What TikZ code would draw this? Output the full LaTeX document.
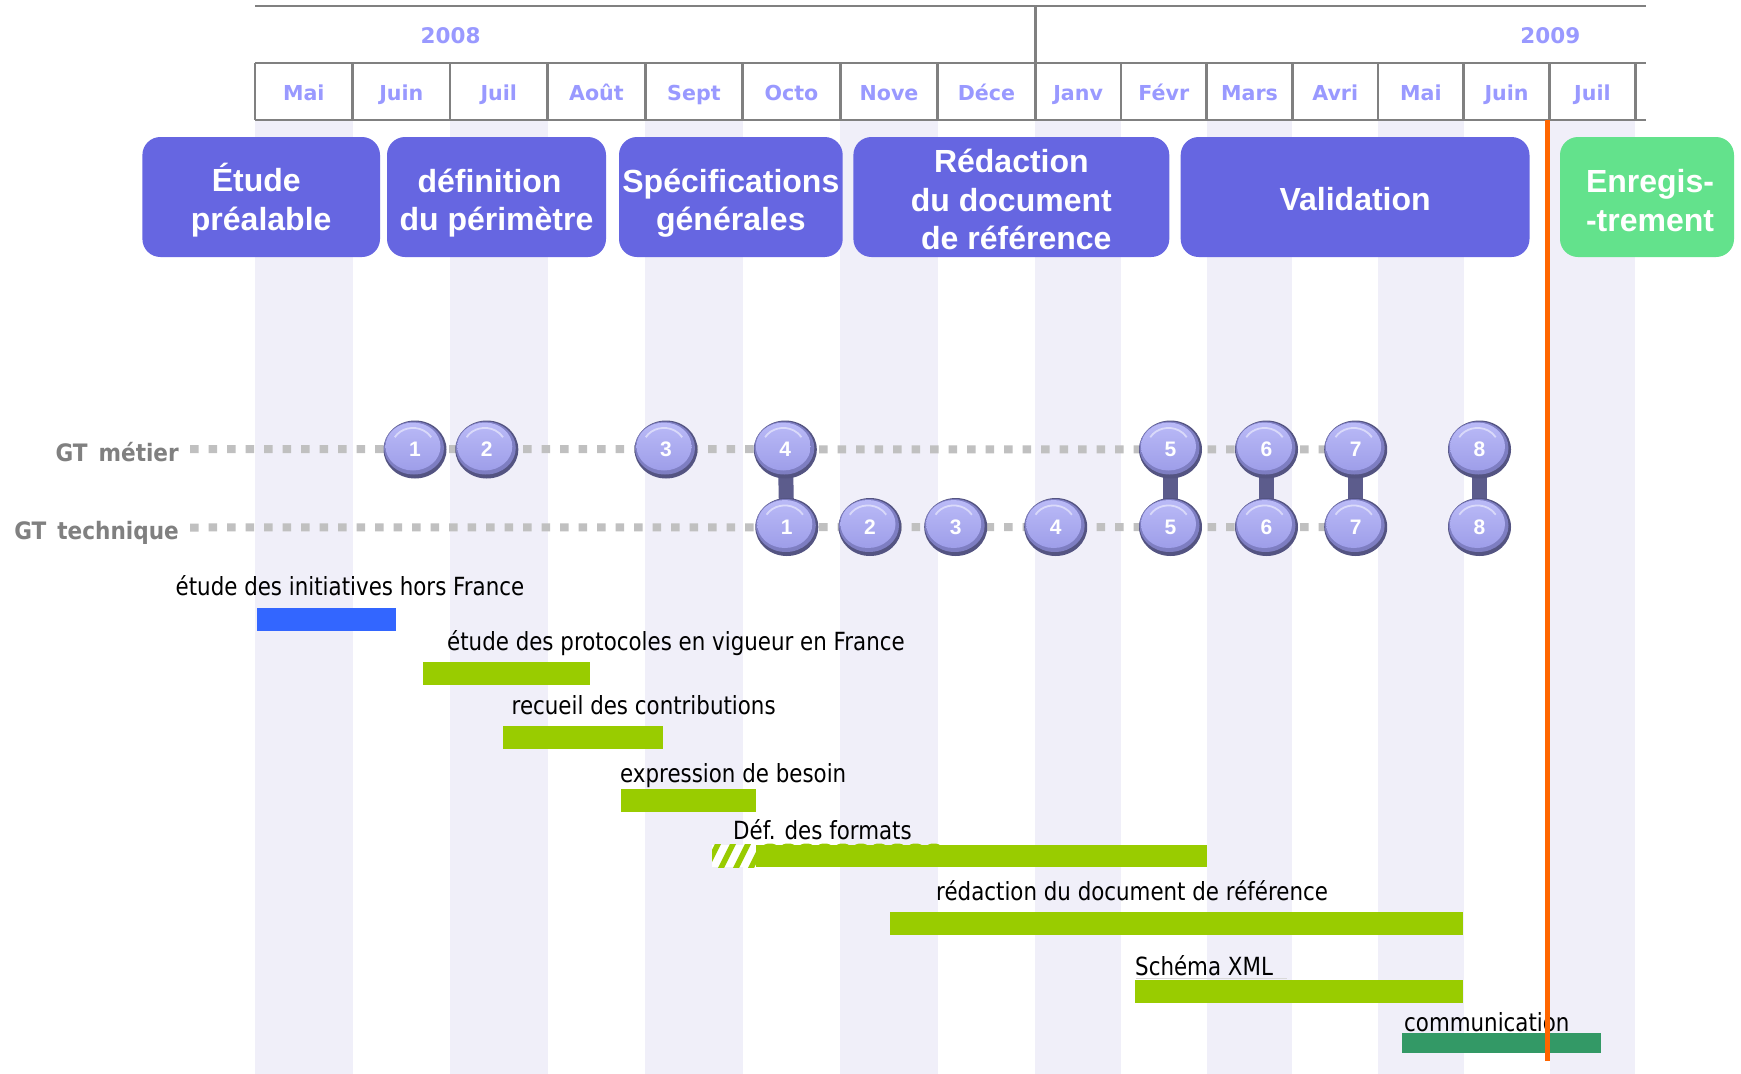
\documentclass[tikz,border=0pt]{standalone}
\usepackage{fontspec}
\usetikzlibrary{shapes.geometric}
\setmainfont{DejaVu Sans}
\newfontfamily\phasefont{Liberation Sans}
\newfontfamily\hdrfont{DejaVu Sans}
\newfontfamily\gtfont[FakeStretch=0.9]{DejaVu Sans}
\newfontfamily\taskfont[FakeStretch=0.855]{DejaVu Sans}
\newfontfamily\numfont{Liberation Sans}
\definecolor{stripe}{RGB}{240,239,249}
\definecolor{gridgray}{RGB}{128,128,128}
\definecolor{hdr}{RGB}{153,153,255}
\definecolor{phaseblue}{RGB}{102,102,225}
\definecolor{phasegreen}{RGB}{99,226,140}
\definecolor{gtgray}{RGB}{128,128,128}
\definecolor{dotgray}{RGB}{192,192,192}
\definecolor{balldark}{RGB}{84,84,130}
\definecolor{ballmid}{RGB}{126,126,194}
\definecolor{balltop}{RGB}{186,186,247}
\definecolor{ballbot}{RGB}{158,158,233}
\definecolor{linkcol}{RGB}{92,92,140}
\definecolor{taskblue}{RGB}{51,102,255}
\definecolor{taskgreen}{RGB}{153,204,0}
\definecolor{taskcomm}{RGB}{51,153,102}
\definecolor{nowline}{RGB}{255,102,0}
\pgfdeclarelayer{bg}
\pgfdeclarelayer{mid}
\pgfsetlayers{bg,mid,main}
\tikzset{
  gridline/.style={draw=gridgray, line width=2.8pt},
  yearlab/.style={anchor=base, text=hdr, font={\hdrfont\bfseries\fontsize{21.5}{24}\selectfont}, inner sep=0pt},
  monthlab/.style={anchor=base, text=hdr, font={\hdrfont\bfseries\fontsize{20.6}{24}\selectfont}, inner sep=0pt},
  phase/.style={rounded corners=18pt, fill=phaseblue, inner sep=0pt, minimum height=120pt},
  phasetext/.style={text=white, align=center, inner sep=0pt,
    font={\phasefont\bfseries\fontsize{32}{38.5}\selectfont}},
  gtlab/.style={anchor=base east, text=gtgray, inner sep=0pt, font={\gtfont\bfseries\fontsize{24}{28}\selectfont}},
  track/.style={draw=dotgray, line width=8pt, dash pattern=on 8.5pt off 10pt},
  linkbar/.style={draw=linkcol, line width=15pt},
  ball/.style={ellipse, minimum width=63pt, minimum height=58pt, inner sep=0pt, fill=balldark,
    text=white, font={\numfont\bfseries\fontsize{21}{23}\selectfont},
    path picture={
      \fill[ballmid] ([xshift=-1pt,yshift=1.5pt]path picture bounding box.center) ellipse[x radius=30pt, y radius=26.5pt];
      \shade[top color=balltop, bottom color=ballbot] ([xshift=-2pt,yshift=3pt]path picture bounding box.center) ellipse[x radius=27.5pt, y radius=24pt];
      \draw[white, opacity=0.5, line width=1.8pt] ([xshift=-20.2pt,yshift=12.3pt]path picture bounding box.center) arc[start angle=150, end angle=30, x radius=21pt, y radius=18.5pt];
    }},
  tasklab/.style={anchor=base west, inner sep=0pt, text=black, font={\taskfont\fontsize{25}{28}\selectfont}},
}
\begin{document}
\begin{tikzpicture}[x=1pt,y=-1pt]
\useasboundingbox (0,0) rectangle (1741,1074);
% background month stripes
\begin{pgfonlayer}{bg}
\fill[white] (0,0) rectangle (1741,1074);
\foreach \a/\b in {255/352.5, 450/547.6, 645.1/742.7, 840.3/937.7, 1035.2/1120.9, 1206.6/1292.3, 1378/1463.8, 1549.5/1635.2}
  \fill[stripe] (\a,120) rectangle (\b,1074);
\end{pgfonlayer}
% header grid
\draw[gridline] (255,6) -- (1645.5,6);
\draw[gridline] (255,63) -- (1645.5,63);
\draw[gridline] (255,120) -- (1645.5,120);
\draw[gridline] (1035.2,6) -- (1035.2,63);
\foreach \x in {255,352.5,450,547.6,645.1,742.7,840.3,937.7,1035.2,1120.9,1206.6,1292.3,1378,1463.8,1549.5,1635.2}
  \draw[gridline] (\x,63) -- (\x,120);
\node[yearlab] (y2008) at (450.6,43.3) {2008};
\node[yearlab] (y2009) at (1550.3,43.3) {2009};
\foreach \x/\t [count=\i] in {303.8/Mai, 401.3/Juin, 498.8/Juil, 596.4/Août, 693.9/Sept, 791.4/Octo, 889/Nove, 986.4/Déce, 1078.1/Janv, 1163.8/Févr, 1249.5/Mars, 1335.2/Avri, 1420.9/Mai, 1506.6/Juin, 1592.4/Juil}
  \node[monthlab] (mo\i) at (\x,100) {\t};
% phases
\node[phase, minimum width=237.6pt] (p1) at (261.2,197) {};
\node[phase, minimum width=219pt] (p2) at (496.5,197) {};
\node[phase, minimum width=223.7pt] (p3) at (730.85,197) {};
\node[phase, minimum width=315.9pt] (p4) at (1011.35,197) {};
\node[phase, minimum width=348.8pt] (p5) at (1355.1,197) {};
\node[phase, fill=phasegreen, minimum width=174pt] (p6) at (1647,197) {};
\node[phasetext] (p1t) at ([yshift=-3pt]p1.center) {Étude\hspace*{10pt}\\préalable};
\node[phasetext] (p2t) at ([yshift=-6pt]p2.center) {définition\hspace*{14pt}\\du périmètre};
\node[phasetext] (p3t) at ([yshift=-6pt]p3.center) {Spécifications\\générales};
\node[phasetext] (p4t) at ([yshift=-2.5pt]p4.center) {Rédaction\\du document\\\hspace*{10pt}de référence};
\node[phasetext] (p5t) at ([yshift=-2.5pt]p5.center) {Validation};
\node[phasetext] (p6t) at ([xshift=3pt,yshift=-3.5pt]p6.center) {Enregis-\\-trement};
% GT labels
\node[gtlab] (gtm) at (179,461) {GT\hspace{11pt}métier};
\node[gtlab] (gtt) at (179,539.8) {GT\hspace{11pt}technique};
\coordinate (ms) at (190,449);
\coordinate (ts) at (190,527.5);
% balls, GT metier
\foreach \x [count=\i] in {415,486.8,666,785.3,1170.5,1266.5,1355.7,1479.5}
  \node[ball] (m\i) at (\x,449.5) {\raisebox{-4.5pt}{\i}};
% balls, GT technique
\foreach \x [count=\i] in {786.8,870,955.7,1055.7,1170.5,1266.5,1355.7,1479.5}
  \node[ball] (t\i) at (\x,527) {\raisebox{-4.5pt}{\i}};
\begin{pgfonlayer}{mid}
\draw[track] (ms) -- (m7.center);
\draw[track] (ts) -- (t7.center);
\draw[linkbar] (m4.center) -- (t1.center);
\draw[linkbar] (m5.center) -- (t5.center);
\draw[linkbar] (m6.center) -- (t6.center);
\draw[linkbar] (m7.center) -- (t7.center);
\draw[linkbar] (m8.center) -- (t8.center);
\end{pgfonlayer}
% tasks
\node[tasklab] (l1) at (175.5,595) {étude des initiatives hors France};
\fill[taskblue] (257,608.3) rectangle (396,631);
\node[tasklab] (l2) at (447,650) {étude des protocoles en vigueur en France};
\fill[taskgreen] (423,662.3) rectangle (590,684.7);
\node[tasklab] (l3) at (511.5,714.3) {recueil des contributions};
\fill[taskgreen] (503,726) rectangle (663,748.7);
\node[tasklab] (l4) at (620,782.7) {expression de besoin};
\fill[taskgreen] (621,789) rectangle (756,811.7);
\node[tasklab] (l5) at (733,839) {Déf. des formats};
\begin{scope}
  \clip (712,844.7) rectangle (756,867.3);
  \fill[white] (712,844.7) rectangle (756,867.3);
  \foreach \x in {690,705,720,735,750}
    \draw[taskgreen, line width=5.5pt] (\x,870) -- (\x+14,842);
\end{scope}
\fill[taskgreen] (756,844.7) rectangle (1207,867.3);
\foreach \i in {0,...,9}
  \fill[taskgreen] (770+18.2*\i,846.5) ellipse[x radius=7pt, y radius=3pt];
\node[tasklab] (l6) at (936,900.7) {rédaction du document de référence};
\fill[taskgreen] (890,912.3) rectangle (1462.5,934.7);
\node[tasklab] (l7) at (1135,975) {Schéma XML};
\draw[black!15, line width=1pt] (1136,978.3) -- (1287,978.3);
\fill[taskgreen] (1135,980) rectangle (1462.5,1002.7);
\node[tasklab] (l8) at (1404,1031.7) {communication};
\fill[taskcomm] (1402,1033) rectangle (1601,1052.7);
% today line
\coordinate (nowtop) at (1547.5,120);
\coordinate (nowbot) at (1547.5,1060.7);
\draw[nowline, line width=5pt] (nowtop) -- (nowbot);
\end{tikzpicture}
\end{document}
